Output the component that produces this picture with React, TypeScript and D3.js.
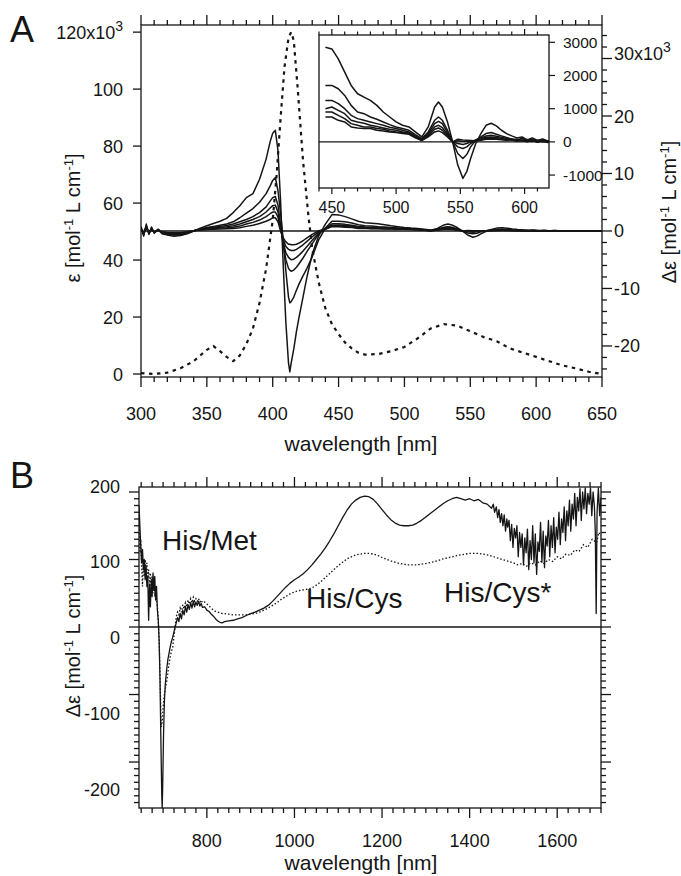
import React from "react";
import * as d3 from "d3";

const FONT = "'Liberation Sans', Arial, Helvetica, sans-serif";
const INK = "#151515";

// ---------- Panel A: absorption spectrum (left axis, x10^3 mol-1 L cm-1) ----------
const absWavelength = [300, 310, 320, 330, 340, 345, 350, 355, 360, 365, 370, 375, 380, 385, 390, 395, 400, 403, 406, 409, 412, 414, 416, 419, 423, 427, 430, 435, 440, 445, 450, 455, 460, 465, 470, 480, 490, 500, 510, 520, 530, 540, 550, 560, 570, 580, 590, 600, 610, 620, 630, 640, 650];
const absEpsilon = [0.3, 0, 0.5, 2, 4.5, 6.5, 8.5, 9.8, 8, 6, 4.5, 6.5, 10.5, 16, 25, 37, 54, 70, 90, 108, 118, 120, 117, 100, 75, 56, 44, 32, 23, 17.5, 14, 11, 9, 7.5, 6.8, 7, 8, 9.5, 12.5, 16, 17.5, 17, 15, 13, 11.5, 9, 7.5, 6, 4.5, 3, 2, 0.8, 0];

// ---------- Panel A: CD spectra (mol-1 L cm-1) ----------
const cdWavelength = [300, 302, 304, 306, 308, 310, 313, 316, 320, 325, 330, 335, 340, 345, 350, 355, 360, 365, 370, 375, 380, 385, 390, 395, 398, 400, 402, 404, 406, 408, 410, 412, 413, 414, 416, 418, 420, 423, 426, 430, 435, 440, 445, 450, 455, 460, 465, 470, 475, 480, 485, 490, 495, 500, 505, 510, 515, 520, 525, 530, 533, 536, 540, 544, 548, 552, 555, 558, 562, 566, 570, 574, 578, 582, 586, 590, 594, 598, 602, 606, 610, 614, 618, 622, 630, 640, 650];
const cdTrace1 = [
  800, -900, 1200, -600, 700, -400, 300, -500, -700, -900,
  -800, -500, 0, 500, 900, 1300, 1700, 2200, 3200, 4400,
  5800, 6500, 9000, 12500, 15500, 17000, 17500, 14000, 5000, -6000,
  -16000, -23000, -24500, -23000, -20500, -17500, -15000, -11500, -8000, -4000,
  -800, 1200, 2850, 2800, 2500, 2100, 1700, 1450, 1350, 1250,
  1100, 900, 750, 600, 500, 450, 300, 150, 450, 1050,
  1200, 1050, 600, 0, -700, -1100, -900, -500, -50, 250,
  500, 560, 480, 350, 250, 180, 120, 150, 60, 120,
  40, 90, 30, 60, 20, 30, 0];
const cdTrace2 = [
  600, -700, 900, -500, 500, -300, 200, -400, -600, -700,
  -700, -400, 0, 350, 600, 800, 1000, 1200, 1600, 2300,
  3100, 3900, 5000, 6500, 7800, 8800, 9300, 7000, 3000, -1500,
  -7000, -11500, -12500, -12300, -11500, -10300, -9200, -7800, -6500, -4500,
  -1500, 500, 1700, 1700, 1600, 1400, 1100, 900, 850, 750,
  680, 600, 520, 450, 400, 350, 220, 100, 300, 650,
  750, 650, 350, 0, -350, -500, -380, -150, 50, 150,
  250, 280, 230, 180, 130, 90, 60, 110, 20, 90,
  10, 70, 0, 40, 10, 20, 0];
const cdTrace3 = [
  500, -600, 800, -400, 400, -200, 300, -300, -500, -600,
  -600, -300, 50, 300, 500, 650, 800, 950, 1200, 1600,
  2000, 2500, 3200, 4200, 5200, 5800, 6000, 4500, 1000, -2500,
  -5000, -6500, -6800, -7000, -6800, -6300, -5700, -4700, -3600, -2200,
  -500, 450, 1250, 1250, 1150, 1000, 800, 700, 650, 600,
  550, 500, 440, 400, 350, 300, 180, 80, 250, 550,
  620, 550, 280, 0, -150, -200, -150, -50, 60, 120,
  180, 200, 170, 140, 100, 60, 90, 30, 70, 10,
  50, 0, 30, -10, 10, 0, 0];
const cdTrace4 = [
  400, -500, 700, -300, 300, -250, 200, -250, -400, -500,
  -500, -250, 50, 250, 400, 550, 650, 750, 900, 1200,
  1600, 2000, 2500, 3300, 4000, 4400, 4500, 3300, 500, -2000,
  -3800, -4600, -4800, -5000, -4900, -4600, -4200, -3500, -2700, -1600,
  -300, 400, 1000, 1050, 950, 850, 650, 600, 560, 500,
  460, 420, 380, 350, 300, 270, 160, 60, 220, 450,
  500, 430, 220, 0, -50, -80, -50, 0, 50, 90,
  140, 150, 130, 100, 70, 90, 40, 60, 20, 50,
  0, 40, -10, 20, 0, 10, 0];
const cdTrace5 = [
  300, -400, 600, -300, 200, -200, 150, -200, -300, -400,
  -400, -200, 50, 200, 300, 400, 500, 550, 650, 850,
  1200, 1500, 1900, 2500, 3000, 3300, 3300, 2400, 200, -1500,
  -2700, -3200, -3300, -3400, -3400, -3200, -2900, -2400, -1800, -1000,
  -100, 350, 900, 900, 800, 700, 550, 500, 450, 450,
  400, 380, 330, 300, 280, 250, 140, 50, 180, 380,
  420, 350, 180, 0, 30, 20, 20, 30, 40, 70,
  100, 110, 100, 80, 60, 70, 30, 50, 10, 40,
  0, 30, -10, 10, 0, 0, 0];
const cdTrace6 = [
  250, -300, 500, -200, 150, -150, 100, -150, -250, -300,
  -300, -150, 50, 150, 250, 300, 350, 400, 450, 550,
  800, 1000, 1300, 1700, 2000, 2300, 2300, 1600, 0, -1200,
  -1900, -2300, -2300, -2400, -2400, -2300, -2100, -1700, -1200, -600,
  50, 300, 750, 750, 650, 600, 450, 420, 400, 400,
  350, 330, 300, 280, 250, 230, 120, 40, 150, 300,
  330, 280, 150, 0, 80, 60, 50, 40, 30, 50,
  80, 90, 80, 60, 50, 60, 20, 40, 0, 30,
  -10, 20, -20, 0, 0, 0, 0];
const cdTraces = [cdTrace1, cdTrace2, cdTrace3, cdTrace4, cdTrace5, cdTrace6];
const insetStartWavelength = 445;

// ---------- Panel B: NIR CD (mol-1 L cm-1) ----------
const nirSolid: [number, number][] = [
  [645, 180], [647, 150], [649, 120], [651, 95], [653, 115], [655, 85], [657, 100], [659, 70], [661, 90], [663, 60],
  [665, 75], [667, 10], [669, 60], [671, 30], [673, 70], [675, 45], [677, 80], [679, 55], [681, 75], [683, 40],
  [685, 60], [687, 25], [689, 10], [691, -20], [693, -80], [695, -170], [697, -250], [698, -268], [699, -240], [701, -160],
  [703, -110], [705, -85], [708, -64], [711, -48], [715, -34], [718, -24], [722, -15], [726, -4], [730, 6], [733, 14],
  [736, 8], [739, 20], [742, 12], [745, 25], [748, 18], [751, 30], [754, 22], [757, 33], [760, 26], [763, 36],
  [766, 28], [769, 38], [772, 30], [775, 37], [778, 32], [781, 38], [784, 31], [787, 35], [790, 29], [795, 30],
  [800, 25], [805, 23], [810, 19], [815, 16], [820, 12], [825, 9], [830, 7], [835, 6], [840, 8], [850, 9],
  [860, 10], [870, 12], [880, 14], [890, 17], [900, 20], [910, 22], [920, 25], [930, 28], [940, 32], [950, 38],
  [960, 45], [970, 52], [980, 59], [990, 65], [1000, 70], [1010, 74], [1020, 79], [1030, 85], [1040, 92], [1050, 100],
  [1060, 108], [1070, 117], [1080, 127], [1090, 138], [1100, 150], [1110, 162], [1120, 173], [1130, 182], [1140, 188], [1150, 192],
  [1160, 194], [1170, 193], [1180, 189], [1190, 182], [1200, 174], [1210, 166], [1220, 159], [1230, 154], [1240, 151], [1250, 150],
  [1260, 150], [1270, 151], [1280, 154], [1290, 158], [1300, 163], [1310, 168], [1320, 173], [1330, 178], [1340, 183], [1350, 187],
  [1360, 190], [1370, 192], [1380, 190], [1390, 188], [1400, 190], [1410, 187], [1420, 189], [1430, 184], [1440, 182], [1450, 176],
  [1454, 182], [1457, 170], [1461, 178], [1464, 162], [1467, 174], [1470, 155], [1473, 168], [1476, 150], [1479, 166], [1482, 142],
  [1485, 160], [1487, 148], [1490, 158], [1493, 128], [1496, 152], [1499, 118], [1502, 146], [1505, 132], [1508, 150], [1511, 104],
  [1514, 140], [1517, 118], [1520, 138], [1523, 92], [1526, 132], [1529, 110], [1532, 145], [1535, 85], [1538, 128], [1541, 100],
  [1544, 150], [1547, 95], [1550, 138], [1553, 78], [1556, 126], [1559, 112], [1562, 155], [1565, 96], [1568, 142], [1571, 88],
  [1574, 135], [1577, 120], [1580, 158], [1583, 104], [1586, 150], [1589, 118], [1592, 162], [1595, 110], [1598, 148], [1601, 130],
  [1604, 170], [1607, 122], [1610, 160], [1613, 140], [1616, 178], [1619, 128], [1622, 172], [1625, 150], [1628, 188], [1631, 142],
  [1634, 182], [1637, 160], [1640, 198], [1643, 150], [1646, 192], [1649, 172], [1652, 205], [1655, 158], [1658, 200], [1661, 175],
  [1664, 206], [1667, 168], [1670, 198], [1673, 182], [1676, 206], [1679, 165], [1682, 200], [1685, 178], [1687, 140], [1689, 20],
  [1691, 170], [1694, 206], [1697, 165], [1700, 192]];
const nirDotted: [number, number][] = [
  [645, 150], [647, 110], [649, 130], [651, 90], [653, 60], [655, 95], [657, 75], [659, 100], [661, 80], [663, 95],
  [665, 70], [667, 85], [669, 60], [671, 80], [673, 55], [675, 75], [677, 50], [679, 70], [681, 45], [683, 60],
  [685, 40], [687, 30], [689, 10], [691, -20], [693, -70], [695, -130], [696, -148], [698, -140], [700, -120], [703, -100],
  [706, -88], [709, -78], [712, -62], [716, -45], [719, -36], [722, -30], [726, -8], [730, 15], [733, 22], [736, 18],
  [739, 28], [742, 22], [745, 33], [748, 27], [751, 36], [754, 30], [757, 40], [760, 34], [763, 42], [766, 36],
  [769, 44], [772, 38], [775, 42], [778, 38], [781, 42], [784, 37], [787, 40], [790, 36], [795, 37], [800, 34],
  [805, 31], [810, 28], [815, 25], [820, 23], [825, 22], [830, 21], [835, 20], [840, 20], [850, 19], [860, 18],
  [870, 18], [880, 18], [890, 18], [900, 19], [910, 20], [920, 22], [930, 25], [940, 28], [950, 32], [960, 36],
  [970, 41], [980, 45], [990, 49], [1000, 52], [1010, 54], [1020, 55], [1030, 56], [1040, 58], [1050, 62], [1060, 67],
  [1070, 73], [1080, 79], [1090, 85], [1100, 91], [1110, 96], [1120, 101], [1130, 104], [1140, 107], [1150, 108], [1160, 109],
  [1170, 109], [1180, 108], [1190, 106], [1200, 103], [1220, 98], [1240, 94], [1260, 92], [1280, 92], [1300, 94], [1320, 97],
  [1340, 101], [1360, 104], [1380, 107], [1400, 109], [1420, 109], [1440, 107], [1460, 103], [1480, 99], [1500, 95], [1510, 92],
  [1520, 94], [1530, 90], [1540, 95], [1550, 92], [1560, 98], [1570, 94], [1580, 100], [1590, 97], [1600, 104], [1610, 101],
  [1620, 108], [1630, 106], [1640, 114], [1650, 112], [1660, 122], [1670, 118], [1680, 130], [1690, 125], [1695, 140], [1700, 135]];

// ---------- tick labels ----------
const ticksAx = [300, 350, 400, 450, 500, 550, 600, 650];
const ticksAleft = [0, 20, 40, 60, 80, 100, 120];
const ticksAright = [-20, -10, 0, 10, 20, 30];
const ticksInsetX = [450, 500, 550, 600];
const ticksInsetY = [-1000, 0, 1000, 2000, 3000];
const ticksBx = [800, 1000, 1200, 1400, 1600];
const ticksBy = [-200, -100, 0, 100, 200];
const bandNames = ["His/Met", "His/Cys", "His/Cys*"];

function UnitTitle({ x, y, prefix }: { x: number; y: number; prefix: string }) {
  return (
    <text transform={`translate(${x},${y}) rotate(-90)`} fontSize={20} textAnchor="middle" fill={INK}>
      <tspan>{prefix + " [mol"}</tspan>
      <tspan dy={-7} fontSize={13}>-1</tspan>
      <tspan dy={7}>{" L cm"}</tspan>
      <tspan dy={-7} fontSize={13}>-1</tspan>
      <tspan dy={7}>]</tspan>
    </text>
  );
}

export default function App() {
  // panel A scales
  const xA = d3.scaleLinear().domain([300, 650]).range([141, 602]);
  const yAbs = d3.scaleLinear().domain([-1.05, 122.5]).range([377, 25]);
  const yCD = d3.scaleLinear().domain([-25.4, 35.83]).range([377, 25]);
  // inset scales
  const xI = d3.scaleLinear().domain([440, 619]).range([319, 549]);
  const yI = d3.scaleLinear().domain([-1390, 3220]).range([188, 35]);
  // panel B scales
  const xB = d3.scaleLinear().domain([645, 1700]).range([139, 601]);
  const yB = d3.scaleLinear().domain([-268.1, 207.4]).range([808, 487]);
  const yBLabel = d3.scaleLinear().domain([-200, 200]).range([789, 486]);

  const absLine = d3.line<number>().x((_, i) => xA(absWavelength[i])).y((v) => yAbs(v));
  const cdLine = d3.line<number>().x((_, i) => xA(cdWavelength[i])).y((v) => yCD(v / 1000));
  const insetLine = d3
    .line<number>()
    .defined((_, i) => cdWavelength[i] >= insetStartWavelength)
    .x((_, i) => xI(cdWavelength[i]))
    .y((v) => yI(v));
  const nirLine = d3.line<[number, number]>().x((d) => xB(d[0])).y((d) => yB(d[1]));

  const [aL, aR] = xA.range();
  const [aB, aT] = yCD.range();
  const [iL, iR] = xI.range();
  const [iB, iT] = yI.range();
  const [bL, bR] = xB.range();
  const [bB, bT] = yB.range();

  const minorAx = d3.range(300, 651, 10);
  const minorAright = d3.range(-24, 35, 2);
  const minorIx = d3.range(440, 620, 10);
  const minorBx = d3.range(650, 1701, 25);
  const minorBy = d3.range(-260, 201, 10);

  const axisStroke = { stroke: INK, strokeWidth: 1.3, fill: "none" } as const;

  return (
    <svg width={681} height={876} style={{ position: "absolute", left: 0, top: 0, background: "#fff" }} fontFamily={FONT}>
      <defs>
        <clipPath id="clipA"><rect x={aL} y={aT} width={aR - aL} height={aB - aT} /></clipPath>
        <clipPath id="clipI"><rect x={iL} y={iT} width={iR - iL} height={iB - iT} /></clipPath>
        <clipPath id="clipB"><rect x={bL} y={bT} width={bR - bL} height={bB - bT} /></clipPath>
      </defs>
      <rect width={681} height={876} fill="#fff" />

      {/* ================= PANEL A ================= */}
      <text x={10} y={42} fontSize={36} fill={INK}>A</text>
      <g clipPath="url(#clipA)">
        <line x1={aL} x2={aR} y1={yCD(0)} y2={yCD(0)} stroke={INK} strokeWidth={1.3} />
        <path d={absLine(absEpsilon) || ""} fill="none" stroke={INK} strokeWidth={2.2} strokeDasharray="3.5 4.5" />
        {cdTraces.map((t, k) => (
          <path key={k} d={cdLine(t) || ""} fill="none" stroke={INK} strokeWidth={1.5} strokeLinejoin="round" />
        ))}
      </g>
      <rect x={aL} y={aT} width={aR - aL} height={aB - aT} {...axisStroke} />
      {minorAx.map((v) => {
        const major = v % 50 === 0;
        const x = xA(v);
        return (
          <g key={"ax" + v}>
            <line x1={x} x2={x} y1={aB} y2={aB + (major ? 10 : 5)} stroke={INK} strokeWidth={1.3} />
            <line x1={x} x2={x} y1={aT} y2={aT - (major ? 10 : 5)} stroke={INK} strokeWidth={1.3} />
          </g>
        );
      })}
      {ticksAx.map((v) => (
        <text key={"axl" + v} x={xA(v)} y={420} fontSize={18} textAnchor="middle" fill={INK}>{v}</text>
      ))}
      <text x={361} y={451} fontSize={21} textAnchor="middle" fill={INK}>wavelength [nm]</text>
      {ticksAleft.map((v) => (
        <g key={"al" + v}>
          <line x1={aL - 8} x2={aL} y1={yAbs(v)} y2={yAbs(v)} stroke={INK} strokeWidth={1.3} />
          {v === 120 ? (
            <text x={123} y={yAbs(v) + 6.5} fontSize={18} textAnchor="end" fill={INK}>
              <tspan>{v + "x10"}</tspan>
              <tspan dy={-8} fontSize={14}>3</tspan>
            </text>
          ) : (
            <text x={123} y={yAbs(v) + 6.5} fontSize={18} textAnchor="end" fill={INK}>{v}</text>
          )}
        </g>
      ))}
      <UnitTitle x={80} y={218} prefix="ε" />
      {minorAright.map((v) => {
        const major = v % 10 === 0;
        return <line key={"ar" + v} x1={aR} x2={aR + (major ? 10 : 5)} y1={yCD(v)} y2={yCD(v)} stroke={INK} strokeWidth={1.3} />;
      })}
      {ticksAright.map((v) =>
        v === 30 ? (
          <text key={"arl" + v} x={614} y={yCD(v) + 1.5} fontSize={18} fill={INK}>
            <tspan>{v + "x10"}</tspan>
            <tspan dy={-8} fontSize={14}>3</tspan>
          </text>
        ) : (
          <text key={"arl" + v} x={614} y={yCD(v) + 6.5} fontSize={18} fill={INK}>{v}</text>
        )
      )}
      <UnitTitle x={676} y={212} prefix="Δε" />

      {/* ---------- inset ---------- */}
      <rect x={iL} y={iT} width={iR - iL} height={iB - iT} fill="#fff" />
      <g clipPath="url(#clipI)">
        <line x1={iL} x2={iR} y1={yI(0)} y2={yI(0)} stroke={INK} strokeWidth={1.3} />
        {cdTraces.map((t, k) => (
          <path key={k} d={insetLine(t) || ""} fill="none" stroke={INK} strokeWidth={1.5} strokeLinejoin="round" />
        ))}
      </g>
      <rect x={iL} y={iT} width={iR - iL} height={iB - iT} {...axisStroke} />
      {minorIx.map((v) => {
        const major = v % 50 === 0;
        const x = xI(v);
        return (
          <g key={"ix" + v}>
            <line x1={x} x2={x} y1={iB} y2={iB + (major ? 6 : 3.5)} stroke={INK} strokeWidth={1.2} />
            <line x1={x} x2={x} y1={iT} y2={iT - (major ? 6 : 3.5)} stroke={INK} strokeWidth={1.2} />
          </g>
        );
      })}
      {ticksInsetX.map((v) => (
        <text key={"ixl" + v} x={xI(v)} y={213} fontSize={16} textAnchor="middle" fill={INK}>{v}</text>
      ))}
      {ticksInsetY.map((v) => (
        <g key={"iy" + v}>
          <line x1={iR} x2={iR + 6} y1={yI(v)} y2={yI(v)} stroke={INK} strokeWidth={1.2} />
          <text x={563} y={yI(v) + 5.5} fontSize={15.5} fill={INK}>{v}</text>
        </g>
      ))}

      {/* ================= PANEL B ================= */}
      <text x={10} y={488} fontSize={36} fill={INK}>B</text>
      <g clipPath="url(#clipB)">
        <line x1={bL} x2={bR} y1={yB(0)} y2={yB(0)} stroke={INK} strokeWidth={1.3} />
        <path d={nirLine(nirDotted) || ""} fill="none" stroke={INK} strokeWidth={1.3} strokeDasharray="1.5 2" />
        <path d={nirLine(nirSolid) || ""} fill="none" stroke={INK} strokeWidth={1.3} strokeLinejoin="round" />
      </g>
      <rect x={bL} y={bT} width={bR - bL} height={bB - bT} {...axisStroke} />
      {minorBx.map((v) => {
        const major = v % 200 === 0;
        const x = xB(v);
        return (
          <g key={"bx" + v}>
            <line x1={x} x2={x} y1={bB} y2={bB + (major ? 10 : 5)} stroke={INK} strokeWidth={1.3} />
            <line x1={x} x2={x} y1={bT} y2={bT - (major ? 10 : 5)} stroke={INK} strokeWidth={1.3} />
          </g>
        );
      })}
      {ticksBx.map((v) => (
        <text key={"bxl" + v} x={xB(v)} y={846.5} fontSize={18} textAnchor="middle" fill={INK}>{v}</text>
      ))}
      <text x={361} y={870} fontSize={21} textAnchor="middle" fill={INK}>wavelength [nm]</text>
      {minorBy.map((v) => {
        const major = v % 100 === 0;
        const y = yB(v);
        return (
          <g key={"by" + v}>
            <line x1={bL - (major ? 10 : 5)} x2={bL} y1={y} y2={y} stroke={INK} strokeWidth={1.3} />
            <line x1={bR} x2={bR + (major ? 10 : 5)} y1={y} y2={y} stroke={INK} strokeWidth={1.3} />
          </g>
        );
      })}
      {ticksBy.map((v) => (
        <text key={"byl" + v} x={120} y={yBLabel(v) + 6.5} fontSize={18} textAnchor="end" fill={INK}>{v}</text>
      ))}
      <UnitTitle x={80} y={646} prefix="Δε" />
      <text x={162} y={550} fontSize={28} fill={INK}>{bandNames[0]}</text>
      <text x={306} y={608} fontSize={28} fill={INK}>{bandNames[1]}</text>
      <text x={444} y={602} fontSize={28} fill={INK}>{bandNames[2]}</text>
    </svg>
  );
}
